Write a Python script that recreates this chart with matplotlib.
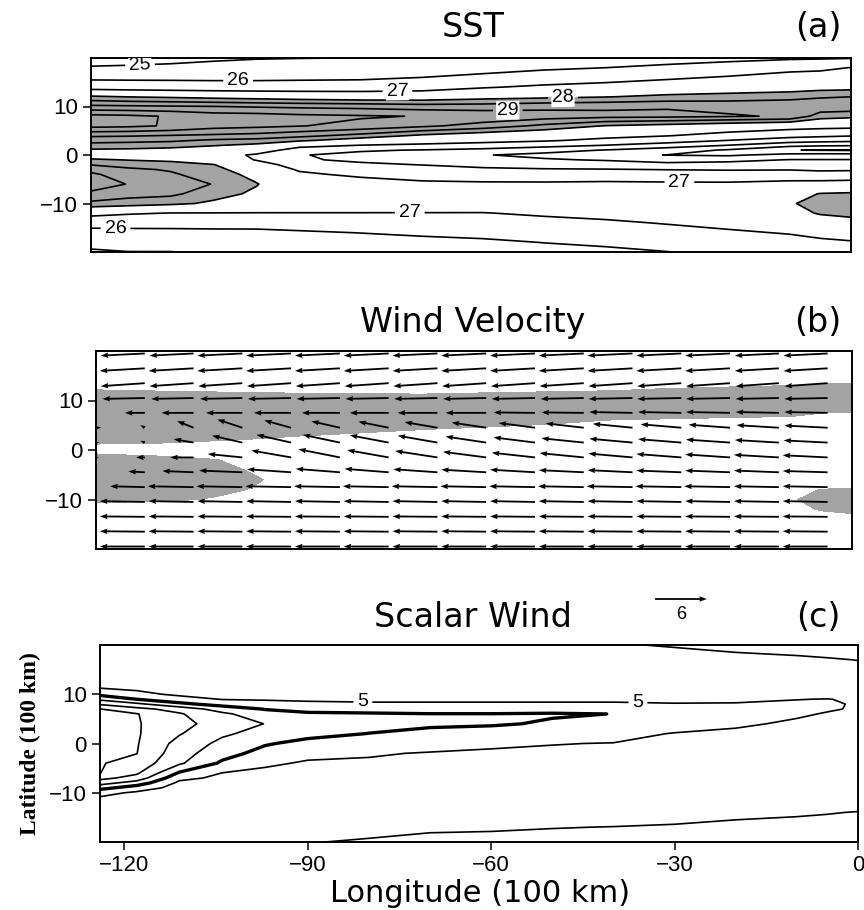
import matplotlib
matplotlib.use('Agg')
import matplotlib.pyplot as plt
import numpy as np

plt.rcParams['font.family'] = ['Liberation Sans', 'DejaVu Sans']

# ---- grids (longitude / latitude in 100 km) ----
grid_lon = [-124, -118, -111, -104, -97, -90, -80, -70, -60, -50, -40, -30, -20, -10, -5, 0]

sst_lat = [20, 18, 16, 14, 12, 10, 8, 6, 4, 3, 2, 1, 0, -1, -2, -3, -4, -6, -8, -10, -12, -14, -16, -18, -20]
sst = [
    [24.45, 24.55, 24.68, 24.85, 24.95, 24.98, 25.01, 25.15, 25.30, 25.40, 25.50, 25.60, 25.75, 25.85, 25.90, 25.95],
    [25.10, 25.15, 25.22, 25.30, 25.35, 25.40, 25.43, 25.55, 25.60, 25.85, 26.00, 26.20, 26.40, 26.80, 26.83, 27.02],
    [25.77, 25.76, 25.76, 25.75, 25.76, 25.80, 25.83, 26.00, 26.25, 26.48, 26.65, 26.85, 27.08, 27.25, 27.34, 27.41],
    [26.65, 26.60, 26.55, 26.50, 26.48, 26.48, 26.52, 26.62, 26.93, 27.15, 27.30, 27.53, 27.60, 27.65, 27.77, 27.80],
    [28.11, 27.99, 27.92, 27.83, 27.75, 27.67, 27.58, 27.60, 27.78, 27.88, 27.98, 28.13, 28.23, 28.36, 28.45, 28.50],
    [29.12, 29.09, 29.05, 29.01, 28.95, 28.90, 28.85, 28.75, 28.75, 28.85, 28.90, 28.95, 28.85, 28.80, 28.85, 28.85],
    [30.15, 30.10, 29.96, 29.75, 29.72, 29.62, 29.55, 29.48, 29.35, 29.25, 29.15, 29.12, 29.05, 28.95, 28.25, 28.14],
    [30.15, 30.10, 29.95, 29.70, 29.62, 29.52, 29.36, 29.10, 28.80, 28.37, 27.97, 27.80, 27.60, 27.40, 27.32, 27.28],
    [29.08, 29.05, 28.98, 28.91, 28.83, 28.65, 28.33, 27.90, 27.63, 27.45, 27.26, 27.04, 26.67, 26.33, 26.20, 26.07],
    [28.69, 28.65, 28.59, 28.41, 28.33, 28.10, 27.67, 27.40, 27.26, 27.10, 26.77, 26.45, 25.98, 25.50, 25.36, 25.25],
    [28.31, 28.27, 28.19, 28.04, 27.86, 27.25, 26.98, 26.85, 26.67, 26.35, 25.98, 25.55, 24.98, 24.29, 24.14, 24.10],
    [27.92, 27.90, 27.83, 27.65, 27.40, 26.65, 26.10, 25.95, 25.72, 25.35, 24.95, 24.45, 23.88, 23.03, 22.95, 22.90],
    [27.68, 27.66, 27.58, 27.30, 26.90, 26.05, 25.76, 25.40, 25.05, 24.75, 24.25, 23.98, 23.86, 24.31, 24.36, 24.36],
    [28.08, 27.98, 27.90, 27.65, 26.95, 26.10, 25.85, 25.65, 25.40, 25.10, 24.92, 24.60, 24.73, 25.04, 25.04, 25.04],
    [28.48, 28.31, 28.20, 28.02, 27.40, 26.60, 26.14, 25.98, 25.77, 25.60, 25.50, 25.30, 25.39, 25.48, 25.46, 25.46],
    [28.83, 28.60, 28.45, 28.14, 27.70, 26.90, 26.50, 26.30, 26.15, 26.08, 26.05, 25.98, 25.94, 25.96, 25.88, 25.88],
    [29.10, 28.72, 28.57, 28.26, 27.83, 27.15, 26.83, 26.60, 26.50, 26.45, 26.45, 26.45, 26.38, 26.42, 26.30, 26.42],
    [29.30, 28.98, 28.76, 28.48, 28.03, 27.50, 27.40, 27.20, 27.15, 27.15, 27.20, 27.15, 27.15, 27.30, 27.37, 27.38],
    [28.88, 28.68, 28.62, 28.20, 27.90, 27.80, 27.80, 27.65, 27.60, 27.60, 27.60, 27.50, 27.55, 27.72, 28.03, 28.08],
    [28.38, 28.28, 28.13, 27.90, 27.60, 27.55, 27.55, 27.50, 27.45, 27.45, 27.63, 27.72, 27.80, 27.96, 28.14, 28.28],
    [27.29, 27.09, 26.97, 26.97, 26.97, 26.97, 26.97, 26.97, 26.97, 27.12, 27.25, 27.40, 27.60, 27.80, 28.05, 28.13],
    [26.31, 26.32, 26.31, 26.33, 26.35, 26.40, 26.50, 26.55, 26.60, 26.75, 26.87, 27.05, 27.20, 27.40, 27.70, 27.82],
    [25.74, 25.76, 25.78, 25.80, 25.80, 25.90, 26.02, 26.15, 26.25, 26.35, 26.50, 26.70, 26.90, 27.05, 27.25, 27.38],
    [25.30, 25.37, 25.40, 25.45, 25.45, 25.50, 25.60, 25.75, 25.85, 26.02, 26.15, 26.35, 26.60, 26.75, 26.83, 26.93],
    [24.87, 24.98, 24.98, 25.10, 25.15, 25.10, 25.20, 25.35, 25.50, 25.70, 25.82, 25.98, 26.30, 26.45, 26.50, 26.50],
]
sst_levels = [23, 24, 25, 26, 27, 28, 28.5, 29, 29.5, 30]

spd_lat = [20, 17, 14, 12, 10, 9, 8, 7, 6, 4, 2, 0, -2, -4, -6, -7, -8, -9, -10, -12, -14, -17, -20]
speed = [
    [5.95, 5.95, 5.95, 5.95, 5.95, 5.95, 5.95, 5.95, 5.95, 5.96, 5.98, 6.02, 6.15, 6.20, 6.25, 6.30],
    [5.85, 5.85, 5.85, 5.85, 5.85, 5.85, 5.85, 5.85, 5.85, 5.87, 5.88, 5.90, 5.85, 5.92, 5.96, 6.01],
    [5.70, 5.70, 5.72, 5.72, 5.72, 5.72, 5.72, 5.72, 5.72, 5.73, 5.74, 5.75, 5.75, 5.78, 5.80, 5.82],
    [5.45, 5.50, 5.50, 5.50, 5.50, 5.50, 5.50, 5.50, 5.50, 5.50, 5.50, 5.55, 5.55, 5.60, 5.60, 5.62],
    [4.27, 4.71, 5.20, 5.25, 5.30, 5.30, 5.30, 5.30, 5.30, 5.30, 5.30, 5.30, 5.35, 5.35, 5.30, 5.35],
    [3.22, 4.02, 4.57, 5.05, 5.15, 5.15, 5.15, 5.15, 5.15, 5.15, 5.15, 5.18, 5.20, 5.02, 4.98, 5.10],
    [2.11, 2.78, 3.78, 4.35, 4.45, 4.80, 4.90, 4.90, 4.90, 4.90, 4.90, 4.96, 4.93, 4.88, 4.93, 5.05],
    [0.98, 1.70, 2.40, 3.45, 4.05, 4.25, 4.33, 4.37, 4.40, 4.45, 4.50, 4.75, 4.80, 4.86, 4.93, 5.07],
    [0.92, 0.95, 1.90, 2.80, 3.60, 3.88, 3.92, 3.98, 3.98, 3.92, 4.01, 4.55, 4.70, 4.90, 5.05, 5.12],
    [0.87, 0.92, 1.66, 2.50, 3.02, 3.40, 3.62, 3.85, 3.90, 4.10, 4.30, 4.60, 4.88, 5.12, 5.15, 5.18],
    [0.86, 0.90, 1.93, 2.85, 3.35, 3.70, 4.02, 4.24, 4.39, 4.60, 4.75, 5.04, 5.15, 5.20, 5.20, 5.20],
    [0.88, 0.93, 2.35, 3.25, 3.90, 4.30, 4.48, 4.67, 4.88, 4.98, 5.02, 5.15, 5.20, 5.22, 5.22, 5.22],
    [0.90, 0.98, 2.60, 3.60, 4.37, 4.77, 4.93, 5.05, 5.10, 5.10, 5.10, 5.15, 5.20, 5.22, 5.22, 5.22],
    [0.93, 1.37, 2.85, 4.17, 4.85, 5.10, 5.10, 5.15, 5.15, 5.15, 5.15, 5.18, 5.20, 5.22, 5.22, 5.22],
    [0.98, 1.85, 4.12, 5.02, 5.20, 5.22, 5.20, 5.20, 5.20, 5.20, 5.20, 5.20, 5.22, 5.24, 5.24, 5.24],
    [1.69, 2.40, 4.75, 5.20, 5.28, 5.28, 5.25, 5.25, 5.25, 5.23, 5.22, 5.22, 5.24, 5.25, 5.25, 5.25],
    [2.60, 3.44, 5.20, 5.30, 5.32, 5.32, 5.28, 5.28, 5.28, 5.26, 5.25, 5.25, 5.26, 5.27, 5.28, 5.28],
    [3.67, 4.50, 5.35, 5.38, 5.38, 5.36, 5.32, 5.32, 5.30, 5.29, 5.28, 5.28, 5.28, 5.30, 5.32, 5.32],
    [4.70, 5.15, 5.42, 5.42, 5.42, 5.40, 5.36, 5.36, 5.33, 5.32, 5.30, 5.30, 5.32, 5.35, 5.38, 5.40],
    [5.45, 5.45, 5.50, 5.50, 5.50, 5.50, 5.45, 5.45, 5.42, 5.40, 5.38, 5.40, 5.45, 5.50, 5.55, 5.60],
    [5.65, 5.65, 5.65, 5.65, 5.67, 5.67, 5.60, 5.60, 5.55, 5.55, 5.55, 5.60, 5.75, 5.88, 5.95, 6.04],
    [5.85, 5.85, 5.85, 5.85, 5.85, 5.85, 5.85, 5.88, 5.90, 5.97, 6.02, 6.10, 6.25, 6.30, 6.35, 6.40],
    [5.95, 5.95, 5.95, 5.95, 5.95, 5.98, 6.05, 6.20, 6.25, 6.30, 6.40, 6.50, 6.55, 6.60, 6.60, 6.70],
]
speed_levels = [1, 2, 3, 4, 5, 6]

# wind vectors (arrow tails); first column sits on the western boundary
wind_lon = [-124, -116, -108, -100, -92, -84, -76, -68, -60, -52, -44, -36, -28, -20, -12, -4]
wind_lat = [19.5, 16.5, 13.5, 10.5, 7.5, 4.5, 1.5, -1.5, -4.5, -7.5, -10.5, -13.5, -16.5, -19.5]
wind_u = [
    [-5.0, -5.1, -5.1, -5.2, -5.2, -5.2, -5.2, -5.2, -5.2, -5.2, -5.2, -5.2, -5.2, -5.2, -5.1, -5.1],
    [-5.1, -5.2, -5.2, -5.2, -5.2, -5.2, -5.2, -5.2, -5.2, -5.2, -5.2, -5.2, -5.2, -5.2, -5.1, -5.1],
    [-5.0, -5.1, -5.1, -5.1, -5.1, -5.1, -5.1, -5.1, -5.1, -5.1, -5.1, -5.1, -5.1, -5.1, -5.0, -5.0],
    [-4.8, -4.9, -4.9, -4.9, -5.0, -5.0, -5.0, -5.0, -5.0, -5.0, -5.0, -5.1, -5.1, -5.1, -5.0, -5.0],
    [-2.0, -2.3, -3.7, -4.2, -4.3, -4.4, -4.5, -4.6, -4.7, -4.8, -4.9, -5.0, -5.0, -5.1, -5.0, -5.0],
    [0.6, -0.5, -1.9, -2.9, -3.1, -3.3, -3.5, -3.8, -4.0, -4.2, -4.4, -4.6, -4.7, -4.8, -4.9, -5.0],
    [0.4, -0.5, -2.3, -3.5, -4.0, -4.3, -4.5, -4.6, -4.7, -4.8, -4.9, -5.0, -5.0, -5.1, -5.1, -5.1],
    [0.3, -1.0, -2.7, -4.0, -4.6, -4.8, -4.8, -4.9, -5.0, -5.0, -5.1, -5.1, -5.2, -5.2, -5.2, -5.2],
    [-5.0, -1.9, -3.6, -5.0, -5.1, -5.1, -5.1, -5.1, -5.2, -5.2, -5.2, -5.2, -5.2, -5.2, -5.2, -5.2],
    [-5.0, -4.0, -5.3, -5.3, -5.3, -5.3, -5.3, -5.3, -5.3, -5.3, -5.3, -5.3, -5.3, -5.3, -5.2, -5.2],
    [-5.2, -5.2, -5.2, -5.2, -5.2, -5.2, -5.2, -5.2, -5.2, -5.2, -5.2, -5.2, -5.2, -5.2, -5.2, -5.2],
    [-5.2, -5.2, -5.2, -5.2, -5.2, -5.2, -5.2, -5.2, -5.2, -5.2, -5.2, -5.2, -5.2, -5.2, -5.2, -5.2],
    [-5.2, -5.2, -5.2, -5.2, -5.2, -5.2, -5.2, -5.2, -5.2, -5.2, -5.2, -5.2, -5.2, -5.2, -5.2, -5.2],
    [-5.2, -5.2, -5.2, -5.2, -5.2, -5.2, -5.2, -5.2, -5.2, -5.2, -5.2, -5.2, -5.2, -5.2, -5.2, -5.2],
]
wind_v = [
    [-0.25, -0.25, -0.25, -0.25, -0.25, -0.25, -0.25, -0.25, -0.25, -0.25, -0.25, -0.25, -0.25, -0.25, -0.25, -0.25],
    [-0.3, -0.3, -0.3, -0.3, -0.3, -0.3, -0.3, -0.3, -0.3, -0.3, -0.3, -0.3, -0.3, -0.3, -0.3, -0.3],
    [-0.35, -0.35, -0.35, -0.35, -0.35, -0.35, -0.35, -0.35, -0.35, -0.35, -0.35, -0.35, -0.35, -0.35, -0.35, -0.35],
    [-0.1, -0.1, -0.1, -0.1, -0.1, -0.1, -0.1, -0.1, -0.1, -0.1, -0.1, -0.1, -0.1, -0.1, -0.1, -0.1],
    [0.0, 0.0, 0.0, 0.0, 0.0, 0.0, 0.0, 0.0, 0.0, 0.05, 0.05, 0.1, 0.1, 0.1, 0.1, 0.1],
    [0.0, 0.3, 0.77, 0.96, 0.85, 0.75, 0.7, 0.65, 0.6, 0.55, 0.5, 0.45, 0.4, 0.35, 0.3, 0.25],
    [0.0, 0.2, 0.4, 0.8, 0.9, 0.9, 0.85, 0.8, 0.7, 0.6, 0.5, 0.45, 0.4, 0.35, 0.3, 0.25],
    [0.0, 0.0, 0.0, 0.4, 0.8, 0.95, 0.85, 0.75, 0.65, 0.55, 0.5, 0.45, 0.4, 0.35, 0.3, 0.25],
    [0.0, 0.1, 0.15, 0.2, 0.35, 0.4, 0.4, 0.35, 0.3, 0.3, 0.25, 0.25, 0.2, 0.2, 0.2, 0.15],
    [0.1, 0.1, 0.1, 0.1, 0.1, 0.1, 0.1, 0.1, 0.1, 0.1, 0.1, 0.1, 0.1, 0.1, 0.1, 0.1],
    [0.1, 0.1, 0.1, 0.1, 0.1, 0.1, 0.1, 0.1, 0.1, 0.1, 0.1, 0.1, 0.1, 0.1, 0.1, 0.1],
    [0.05, 0.05, 0.05, 0.05, 0.05, 0.05, 0.05, 0.05, 0.05, 0.05, 0.05, 0.05, 0.05, 0.05, 0.05, 0.05],
    [0.05, 0.05, 0.05, 0.05, 0.05, 0.05, 0.05, 0.05, 0.05, 0.05, 0.05, 0.05, 0.05, 0.05, 0.05, 0.05],
    [0.0, 0.0, 0.0, 0.0, 0.0, 0.0, 0.0, 0.0, 0.0, 0.0, 0.0, 0.0, 0.0, 0.0, 0.0, 0.0],
]
wind_key = 6

lat_ticks = [-10, 0, 10]
lon_ticks = [-120, -90, -60, -30, 0]

# ---- figure ----
W, H = 864, 910
fig = plt.figure(figsize=(W / 100, H / 100), dpi=100)

def box(left, right, top, bottom):
    return [left / W, 1 - bottom / H, (right - left) / W, (bottom - top) / H]

title_font = ['DejaVu Sans']
shade = '#a3a3a3'
lw = 1.2

def style(ax, xticks=False):
    ax.set_xlim(-124, 0)
    ax.set_ylim(-20, 20)
    ax.set_yticks(lat_ticks)
    ax.tick_params(direction='out', length=6, width=1.1, labelsize=16, right=False, top=False)
    if xticks:
        ax.set_xticks(lon_ticks)
    else:
        ax.set_xticks([])
    for s in ax.spines.values():
        s.set_linewidth(1.4)

def int_label(v):
    return '%d' % v if float(v).is_integer() else ''

lon = np.array(grid_lon)
sst_arr = np.array(sst)
sst_y = np.array(sst_lat)

# (a) SST
ax1 = fig.add_axes(box(91, 851, 58, 252))
ax1.contourf(lon, sst_y, sst_arr, levels=[28, 40], colors=[shade])
cs1 = ax1.contour(lon, sst_y, sst_arr, levels=sst_levels, colors='k', linewidths=lw)
style(ax1)
labels = ax1.clabel(cs1, levels=cs1.levels, fmt=int_label, fontsize=14, inline=True, inline_spacing=4,
                    manual=[(-116, 18.6), (-100, 15.0), (-74, 12.8), (-56, 9.6), (-47, 11.8),
                            (-28, -5.6), (-72, -12.0), (-120, -14.9)])
for t in labels:
    t.set_bbox(dict(facecolor='white', edgecolor='none', pad=0.5))

# (b) wind velocity
ax2 = fig.add_axes(box(96, 852, 351, 549))
ax2.contourf(lon, sst_y, sst_arr, levels=[28, 40], colors=[shade])
WX, WY = np.meshgrid(wind_lon, wind_lat)
Q = ax2.quiver(WX, WY, np.array(wind_u), np.array(wind_v), angles='uv', scale_units='x',
               scale=0.706, pivot='tail', width=0.0024, headwidth=3.0, headlength=4.2,
               headaxislength=3.8, color='k')
style(ax2)

# (c) scalar wind
ax3 = fig.add_axes(box(100, 858, 645, 842))
cs3 = ax3.contour(lon, np.array(spd_lat), np.array(speed), levels=speed_levels, colors='k',
                  linewidths=[lw, lw, lw, 2.4, lw, lw])
style(ax3, xticks=True)
ax3.clabel(cs3, levels=cs3.levels, fmt=int_label, fontsize=14, inline=True, inline_spacing=4,
           manual=[(-81, 8.4), (-36, 8.4)])
ax3.set_ylabel('Latitude (100 km)', family='Liberation Serif', fontweight='bold', fontsize=17, labelpad=6)

fig.text(480 / W, 1 - 902 / H, 'Longitude (100 km)', family=title_font, fontsize=22,
         ha='center', va='baseline')

# titles
for txt, tag, yb in [('SST', '(a)', 37), ('Wind Velocity', '(b)', 332), ('Scalar Wind', '(c)', 627)]:
    fig.text(473 / W, 1 - yb / H, txt, family=title_font, fontsize=24, ha='center', va='baseline')
    fig.text(818 / W, 1 - yb / H, tag, family=title_font, fontsize=24, ha='center', va='baseline')

ax2.quiverkey(Q, X=681 / W, Y=1 - 599 / H, U=wind_key, label='6', labelpos='S',
              coordinates='figure', labelsep=0.07, fontproperties={'size': 13})

fig.savefig('out.png', dpi=100)
